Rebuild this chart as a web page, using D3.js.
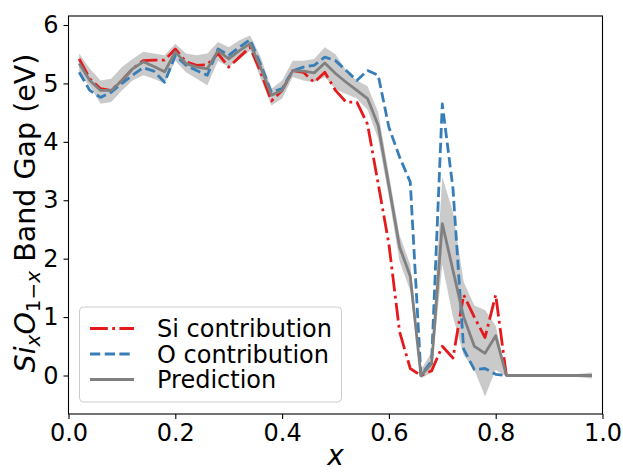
<!DOCTYPE html>
<html>
<head>
<meta charset="utf-8">
<script src="https://cdn.jsdelivr.net/npm/d3@7"></script>
<style>
  body { margin: 0; background: #fff; }
  text { font-family: "DejaVu Sans", sans-serif; }
</style>
</head>
<body>
<svg id="chart" width="623" height="472"></svg>
<script>
// composition x
var xs = [0.02, 0.04, 0.06, 0.08, 0.10, 0.12, 0.14, 0.16, 0.18, 0.20,
  0.22, 0.24, 0.26, 0.28, 0.30, 0.32, 0.34, 0.36, 0.38, 0.40,
  0.42, 0.44, 0.46, 0.48, 0.50, 0.52, 0.54, 0.56, 0.58, 0.60,
  0.62, 0.64, 0.66, 0.68, 0.70, 0.72, 0.74, 0.76, 0.78, 0.80,
  0.82, 0.84, 0.86, 0.88, 0.90, 0.92, 0.94, 0.96, 0.98];

var siVals = [5.42, 5.08, 4.91, 4.88, 5.05, 5.25, 5.39, 5.40, 5.40, 5.59,
  5.37, 5.31, 5.32, 5.51, 5.28, 5.45, 5.62, 5.19, 4.70, 4.88,
  5.22, 5.19, 5.02, 5.19, 4.88, 4.68, 4.68, 4.30, 3.28, 2.25,
  0.75, 0.12, 0.00, 0.08, 0.50, 0.30, 1.38, 1.00, 0.65, 1.38,
  0, 0, 0, 0, 0, 0, 0, 0, 0];

var oVals = [5.19, 4.88, 4.76, 4.85, 5.00, 5.14, 5.27, 5.21, 5.02, 5.48,
  5.31, 5.22, 5.14, 5.59, 5.48, 5.62, 5.75, 5.32, 4.85, 4.91,
  5.22, 5.28, 5.31, 5.45, 5.39, 5.22, 5.05, 5.22, 5.14, 4.25,
  3.74, 3.31, 0.00, 0.25, 4.65, 3.20, 0.45, 0.10, 0.12, 0.02,
  0, 0, 0, 0, 0, 0, 0, 0, 0];

var predVals = [5.34, 5.05, 4.88, 4.88, 5.05, 5.25, 5.37, 5.29, 5.20, 5.54,
  5.34, 5.28, 5.25, 5.56, 5.42, 5.56, 5.68, 5.27, 4.80, 4.88,
  5.22, 5.21, 5.18, 5.35, 5.17, 5.02, 4.88, 4.74, 4.28, 3.25,
  2.20, 1.70, 0.00, 0.20, 2.60, 1.80, 1.00, 0.50, 0.38, 0.68,
  0, 0, 0, 0, 0, 0, 0, 0, 0];

var predLow = [5.17, 4.95, 4.65, 4.68, 4.88, 5.05, 5.14, 5.08, 5.00, 5.39,
  5.19, 5.08, 4.97, 5.39, 5.28, 5.42, 5.56, 5.08, 4.62, 4.74,
  5.11, 5.05, 5.02, 5.11, 4.90, 4.82, 4.74, 4.55, 4.05, 3.05,
  1.95, 1.45, -0.05, 0.05, 1.90, 1.00, 0.35, 0.10, -0.36, 0.10,
  -0.02, -0.02, -0.02, -0.02, -0.02, -0.02, -0.02, -0.03, -0.05];

var predHigh = [5.51, 5.25, 5.05, 5.08, 5.28, 5.42, 5.54, 5.51, 5.48, 5.68,
  5.51, 5.48, 5.51, 5.71, 5.62, 5.74, 5.82, 5.45, 4.91, 5.05,
  5.39, 5.39, 5.42, 5.62, 5.50, 5.22, 5.05, 4.95, 4.50, 3.45,
  2.40, 1.90, 0.10, 0.40, 3.40, 2.80, 1.60, 1.20, 1.12, 0.85,
  0.02, 0.02, 0.02, 0.02, 0.02, 0.02, 0.02, 0.03, 0.05];

var xTicks = [0, 0.2, 0.4, 0.6, 0.8, 1.0];
var yTicks = [0, 1, 2, 3, 4, 5, 6];
var legendLabels = ['Si contribution', 'O contribution', 'Prediction'];

drawChart();

function drawChart() {
  var rows = xs.map(function (x, i) {
    return { x: x, si: siVals[i], o: oVals[i], pred: predVals[i], lo: predLow[i], hi: predHigh[i] };
  });

  var box = { left: 68.5, right: 602.5, top: 16, bottom: 414 };
  var svg = d3.select('#chart');

  var x = d3.scaleLinear().domain([0, 1]).range([box.left, box.right]);
  var y = d3.scaleLinear().domain([-0.659, 6.154]).range([box.bottom, box.top]);

  // uncertainty band
  var band = d3.area()
    .x(function (d) { return x(d.x); })
    .y0(function (d) { return y(d.lo); })
    .y1(function (d) { return y(d.hi); });

  svg.append('path')
    .datum(rows)
    .attr('d', band)
    .attr('fill', '#808080')
    .attr('fill-opacity', 0.42);

  var series = [
    { key: 'si', color: '#e41a1c', dash: '17.8,4.4,2.8,4.4' },
    { key: 'o', color: '#377eb8', dash: '10.3,4.4' },
    { key: 'pred', color: '#808080', dash: null }
  ];

  series.forEach(function (s) {
    var line = d3.line()
      .x(function (d) { return x(d.x); })
      .y(function (d) { return y(d[s.key]); });
    svg.append('path')
      .datum(rows)
      .attr('d', line)
      .attr('fill', 'none')
      .attr('stroke', s.color)
      .attr('stroke-width', 2.8)
      .attr('stroke-linejoin', 'round')
      .attr('stroke-dasharray', s.dash);
  });

  // axes
  var xAxis = svg.append('g')
    .attr('transform', 'translate(0,' + box.bottom + ')')
    .call(d3.axisBottom(x).tickValues(xTicks).tickFormat(d3.format('.1f'))
      .tickSize(5).tickSizeOuter(0).tickPadding(5));
  var yAxis = svg.append('g')
    .attr('transform', 'translate(' + box.left + ',0)')
    .call(d3.axisLeft(y).tickValues(yTicks).tickFormat(d3.format('d'))
      .tickSize(5).tickSizeOuter(0).tickPadding(5));

  [xAxis, yAxis].forEach(function (g) {
    g.select('.domain').remove();
    g.selectAll('line').attr('stroke', '#000').attr('stroke-width', 1.1);
    g.selectAll('text').attr('font-size', 24).attr('fill', '#000')
      .style('font-family', '"DejaVu Sans"');
  });

  svg.append('rect')
    .attr('x', box.left).attr('y', box.top)
    .attr('width', box.right - box.left).attr('height', box.bottom - box.top)
    .attr('fill', 'none').attr('stroke', '#000').attr('stroke-width', 1.1);

  // axis labels
  svg.append('text')
    .attr('x', (box.left + box.right) / 2).attr('y', 465)
    .attr('text-anchor', 'middle')
    .attr('font-size', 28).attr('font-style', 'italic')
    .text('x');

  var ylab = svg.append('text')
    .attr('transform', 'translate(35,213) rotate(-90)')
    .attr('text-anchor', 'middle')
    .attr('font-size', 28.5);
  ylab.append('tspan').attr('font-style', 'italic').text('Si');
  ylab.append('tspan').attr('font-style', 'italic').attr('font-size', 20).attr('dy', 5).text('x');
  ylab.append('tspan').attr('font-style', 'italic').attr('dy', -5).text('O');
  ylab.append('tspan').attr('font-size', 20).attr('dy', 5).text('1');
  ylab.append('tspan').attr('font-size', 20).text('\u2212');
  ylab.append('tspan').attr('font-size', 20).attr('font-style', 'italic').text('x');
  ylab.append('tspan').attr('dy', -5).text(' Band Gap (eV)');

  // legend
  var lg = svg.append('g');
  lg.append('rect')
    .attr('x', 79.5).attr('y', 307)
    .attr('width', 262).attr('height', 95)
    .attr('rx', 4)
    .attr('fill', '#fff').attr('fill-opacity', 0.8)
    .attr('stroke', '#cccccc').attr('stroke-width', 1);

  var legendY = d3.scalePoint().domain(legendLabels).range([328.5, 379.5]);
  legendLabels.forEach(function (lab, i) {
    var s = series[i];
    lg.append('line')
      .attr('x1', 90).attr('x2', 134)
      .attr('y1', legendY(lab)).attr('y2', legendY(lab))
      .attr('stroke', s.color).attr('stroke-width', 2.8)
      .attr('stroke-dasharray', s.dash);
    lg.append('text')
      .attr('x', 157).attr('y', legendY(lab))
      .attr('dy', '0.36em')
      .attr('font-size', 24)
      .text(lab);
  });
}
</script>
</body>
</html>
